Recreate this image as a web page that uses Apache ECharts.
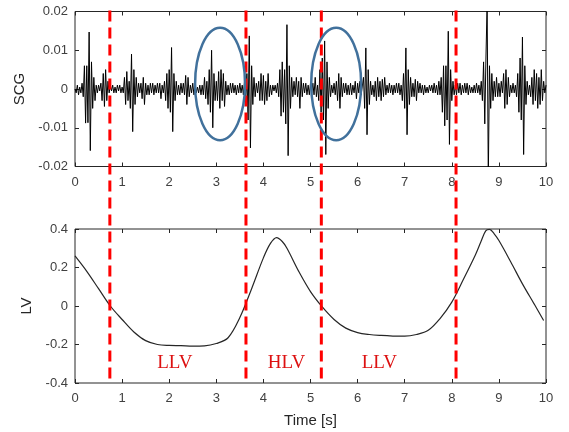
<!DOCTYPE html>
<html><head><meta charset="utf-8">
<script src="https://cdn.jsdelivr.net/npm/echarts@6/dist/echarts.min.js"></script>
<style>html,body{margin:0;padding:0;background:#fff}#c{width:569px;height:432px}</style>
</head><body><div id="c"></div>
<script>
// SCG samples every 0.025 s, in units of 0.001
const scgStep = 0.025;
const scgMilli = [
 0,-1,1,-1.5,0.5,-1,1.5,-2,6,-8.8,6,-8.7,14.7,-15.9,7,-5,3,-3,1,-1,
 1,-0.5,1.5,-3,4,-4.5,5,-3,2,-1,1,-0.5,1,-1,0.5,-1,1,-0.5,1,-1,
 0.5,-1,3,-4,4.5,-3,2,-5,9,-11,5,-4,3,-2,1.5,-1,1.5,-2.5,3,-4,
 1.5,-1.5,1,-1.5,1.5,-1,1.5,-1.5,1,-1,1.5,-1,1.5,-2.5,1,-1,2,-3,4,-5,
 5,-6,10.7,-11,4,-3,2,-1.5,1,-1.5,1.5,-1,1.5,-1.5,3.5,-4,3,-2,1,-1,
 1.5,-1.5,1,-1,0.5,-1,1,-1.5,1,-1.5,3,-2.5,2,-4,5,-6,10,-10,4,-3,
 2,-3,4.5,-5,5,-3,4,-4.5,2,-1.5,1,-1.5,1.5,-1,1.5,-1,1,-1.5,1,-1,
 1.5,-1,1,-1.5,2,-3,4,-8,13.7,-15.2,6,-4,3,-2,1.5,-1,2,-3,4,-3,
 3.5,-4,2,-3,4,-2,1,-1.5,1,-0.5,1,-1,1.5,-2,5,-7,7,-6,5,-9,
 16.6,-17.2,6,-5,3,-2,2,-1.5,3,-2,2,-5,3,-2,1.5,-1,1.5,-1.5,1,-1.5,
 1.5,-1,1.5,-1.5,3,-2,1,-3,5,-6,8,-8,12.4,-16.9,7,-5,3,-2,1,-1,
 1.5,-1.5,2,-3,4,-5,3,-2,1.5,-1,1.5,-1.5,1,-1.5,1.5,-1.5,1,-1,2,-2.5,
 1.5,-1,2,-1.5,-2,3,-5,10.6,-11.8,5,-4,2,-1.5,1,-2,2,-3,3,-2,2,
 -3,2.5,-2,3,-1.5,1,-1,1.5,-1,1,-1.5,1,-1,1.5,-1,1.5,-1.5,1,-3,4,
 -5,10.6,-11.8,5,-4,3,-2,1.5,-2,2.5,-3,2,-1,1.5,-1,1,-1.5,1,-1,0.5,
 -1,1,-0.5,1,-1,1.5,-1,1,-1.5,2,-1.5,3,-6,6,-9.5,6,-8,14.9,-14.3,5,
 -3,2,-1.5,1,-1.5,1.5,-1,1.5,-1.5,1,-1,1.5,-1,1.5,-1.5,1,-1,0.5,-1,1,
 -1,1.5,-1,1,-1.5,2,-3,7,-9,8,22,-23,6,-5,4,-3,2,-2,3,-2,
 1.5,-2,2,-1,4,-5,5,-4,3,-2,1,-1,1.5,-1,1,-2,4,-6,8,-8,
 13.4,-16.9,6,-4,2,-1.5,1,-2,3,-4,5,-3,4,-5,3,-4,5,-3,2,-1,
 1
];
const lvTime  = [0,0.25,0.5,0.75,1,1.25,1.5,1.75,2,2.25,2.5,2.75,3,3.25,3.5,3.75,4,4.15,4.28,4.4,4.5,4.75,5,5.25,5.5,5.75,6,6.25,6.5,6.75,7,7.25,7.5,7.75,8,8.25,8.5,8.62,8.72,8.8,8.9,9,9.25,9.5,9.75,9.95];
const lvValue = [0.26,0.18,0.09,0.0,-0.07,-0.135,-0.18,-0.2,-0.205,-0.206,-0.208,-0.207,-0.195,-0.165,-0.06,0.09,0.25,0.325,0.355,0.335,0.3,0.18,0.075,-0.005,-0.07,-0.115,-0.138,-0.148,-0.153,-0.156,-0.157,-0.148,-0.126,-0.065,0.02,0.14,0.265,0.335,0.39,0.398,0.375,0.34,0.23,0.115,0.01,-0.075];
const boundaries = [0.74, 3.63, 5.23, 8.09];
const phaseLabels = ['LLV', 'HLV', 'LLV'];
const phaseCenters = [2.12, 4.49, 6.46];
const phaseLevel = -0.297;
const ellipseCentersX = [3.08, 5.545];
const ellipseCenterY = 0.0013;
const ellipseHalfW = 0.53;
const ellipseHalfH = 0.0145;

const scgData = scgMilli.map((v, i) => [+(i * scgStep).toFixed(3), v / 1000]);
const lvData = lvTime.map((t, i) => [t, lvValue[i]]);

const chart = echarts.init(document.getElementById('c'), null, {renderer: 'canvas'});
const axCol = '#262626';
const lblFont = {color: '#404040', fontSize: 13, fontFamily: 'Liberation Sans, Arial, sans-serif'};
const nameFont = {color: '#262626', fontSize: 15, fontFamily: 'Liberation Sans, Arial, sans-serif'};
function xAx(grid, pos, labels, extra) {
  return Object.assign({
    type: 'value', gridIndex: grid, position: pos, min: 0, max: 10, interval: 1,
    axisLine: {show: false, onZero: false}, splitLine: {show: false},
    axisTick: {show: true, inside: true, length: 4, lineStyle: {color: axCol}},
    axisLabel: Object.assign({show: labels, margin: 9}, lblFont)
  }, extra || {});
}
function yAx(grid, pos, labels, min, max, itv, extra) {
  return Object.assign({
    type: 'value', gridIndex: grid, position: pos, min: min, max: max, interval: itv,
    axisLine: {show: false, onZero: false}, splitLine: {show: false},
    axisTick: {show: true, inside: true, length: 4, lineStyle: {color: axCol}},
    axisLabel: Object.assign({show: labels, margin: 7}, lblFont)
  }, extra || {});
}
chart.setOption({
  animation: false,
  backgroundColor: '#fff',
  grid: [
    {left: 75, right: 23, top: 11.5, height: 155, show: true, borderColor: axCol, borderWidth: 1, backgroundColor: 'transparent'},
    {left: 75, right: 23, top: 229, height: 154, show: true, borderColor: axCol, borderWidth: 1, backgroundColor: 'transparent'}
  ],
  xAxis: [
    xAx(0, 'bottom', true),
    xAx(0, 'top', false),
    xAx(1, 'bottom', true, {name: 'Time [s]', nameLocation: 'middle', nameGap: 30, nameTextStyle: nameFont}),
    xAx(1, 'top', false)
  ],
  yAxis: [
    yAx(0, 'left', true, -0.02, 0.02, 0.01, {name: 'SCG', nameLocation: 'middle', nameRotate: 90, nameGap: 44, nameTextStyle: nameFont}),
    yAx(0, 'right', false, -0.02, 0.02, 0.01),
    yAx(1, 'left', true, -0.4, 0.4, 0.2, {name: 'LV', nameLocation: 'middle', nameRotate: 90, nameGap: 38, nameTextStyle: nameFont}),
    yAx(1, 'right', false, -0.4, 0.4, 0.2)
  ],
  series: [
    {type: 'line', xAxisIndex: 0, yAxisIndex: 0, data: scgData, showSymbol: false, clip: true,
     lineStyle: {color: '#000', width: 1}, itemStyle: {color: '#000'}},
    {type: 'line', xAxisIndex: 2, yAxisIndex: 2, data: lvData, showSymbol: false, smooth: 0.35, clip: true,
     lineStyle: {color: '#262626', width: 1.2}, itemStyle: {color: '#262626'}}
  ]
});

function px(grid, x, y) { return chart.convertToPixel({gridIndex: grid}, [x, y]); }
const g = [];
boundaries.forEach(t => {
  const a = px(0, t, 0.02), b = px(1, t, -0.4);
  g.push({type: 'line', z: 100, shape: {x1: a[0], y1: a[1] - 1, x2: b[0], y2: b[1]},
    style: {stroke: '#ff0000', lineWidth: 3, lineDash: [11, 6]}});
});
ellipseCentersX.forEach(cx => {
  const c = px(0, cx, ellipseCenterY);
  const r = px(0, cx + ellipseHalfW, ellipseCenterY + ellipseHalfH);
  g.push({type: 'ellipse', z: 101, shape: {cx: c[0], cy: c[1], rx: Math.abs(r[0] - c[0]), ry: Math.abs(c[1] - r[1])},
    style: {fill: 'none', stroke: '#41719c', lineWidth: 2.5}});
});
phaseLabels.forEach((s, i) => {
  const p = px(1, phaseCenters[i], phaseLevel);
  g.push({type: 'text', z: 102, x: p[0], y: p[1],
    style: {text: s, fill: '#dd1111', font: '19px "Liberation Serif", "Times New Roman", serif', textAlign: 'center', textVerticalAlign: 'middle'}});
});
chart.setOption({graphic: g});
</script>
</body></html>
